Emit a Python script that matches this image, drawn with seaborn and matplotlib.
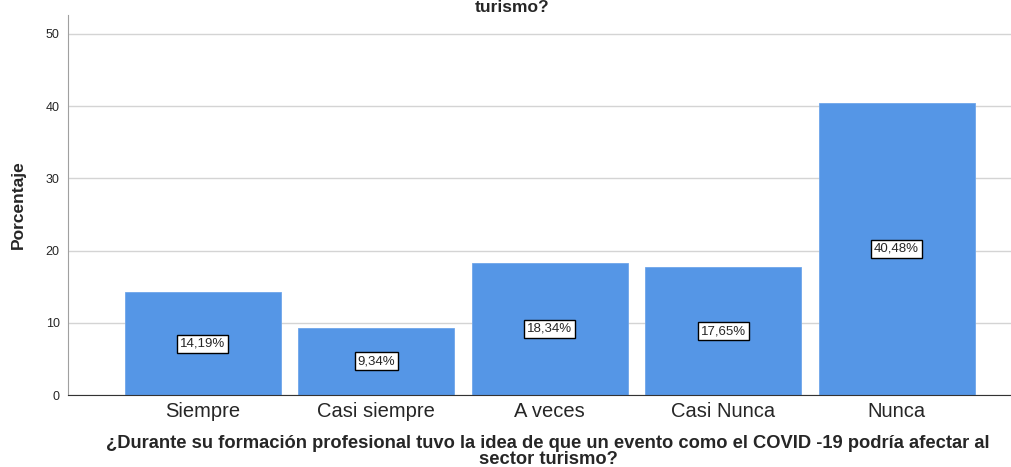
import matplotlib
matplotlib.use("Agg")
import matplotlib.pyplot as plt
import numpy as np
import pandas as pd
import seaborn as sns

# Data
categorias = ["Siempre", "Casi siempre", "A veces", "Casi Nunca", "Nunca"]
porcentajes = [14.19, 9.34, 18.34, 17.65, 40.48]
etiquetas = ["14,19%", "9,34%", "18,34%", "17,65%", "40,48%"]
y_ticks = [0, 10, 20, 30, 40, 50]

pregunta = ("¿Durante su formación profesional tuvo la idea de que un evento "
            "como el COVID -19 podría afectar al\nsector turismo?")

df = pd.DataFrame({"categoria": categorias, "porcentaje": porcentajes})

sns.set_style("white")
plt.rcParams["font.family"] = ["Liberation Sans", "DejaVu Sans"]

fig = plt.figure(figsize=(10.11, 4.67), dpi=100)
# axes runs past the right edge, like the cropped reference
ax = fig.add_axes([68 / 1011, 72 / 467, (1031.5 - 68) / 1011, 380 / 467])

sns.barplot(data=df, x="categoria", y="porcentaje", color="#5596e6",
            saturation=1, width=0.9, ax=ax, edgecolor="#6fa6ea", linewidth=0.6)

ax.set_xlim(-0.778, 4.778)
ax.set_ylim(0, 52.6)
ax.set_yticks(y_ticks)
ax.set_yticklabels([str(t) for t in y_ticks], fontsize=9)
ax.tick_params(axis="y", length=0, pad=6)
ax.tick_params(axis="x", length=0, pad=5, labelsize=14.5)
ax.grid(axis="y", color="#d4d4d4", linewidth=1)
ax.set_axisbelow(True)

for s in ["top", "right"]:
    ax.spines[s].set_visible(False)
ax.spines["left"].set_color("#a0a0a0")
ax.spines["bottom"].set_color("#333333")

ax.set_ylabel("Porcentaje", fontsize=12.5, fontweight="bold", labelpad=14)
ax.set_xlabel(pregunta, fontsize=13.2, fontweight="bold", linespacing=0.9)
# keep the long label inside the picture (it sits left of the axes centre)
ax.xaxis.set_label_coords((548 - 68) / (1031.5 - 68), -0.105)

for i, (v, t) in enumerate(zip(porcentajes, etiquetas)):
    ax.text(i, v / 2, t, ha="center", va="center", fontsize=9.5,
            bbox=dict(boxstyle="square,pad=0.22", fc="white", ec="black", lw=1))

# end of the title, at the very top of the picture
fig.text(512 / 1011, 1.0, "turismo?", ha="center", va="top", fontsize=12.5,
         fontweight="bold")

fig.savefig("out.png", dpi=100)
